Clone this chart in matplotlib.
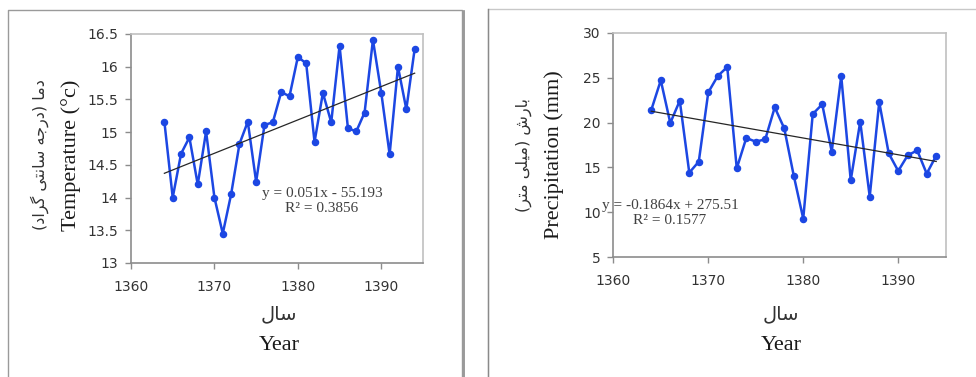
import matplotlib.pyplot as plt
from matplotlib.lines import Line2D

# data
years = list(range(1364, 1395))
temperature = [15.16, 14.0, 14.67, 14.92, 14.2, 15.01, 14.0, 13.45, 14.05, 14.82,
               15.16, 14.24, 15.11, 15.15, 15.61, 15.55, 16.15, 16.05, 14.85, 15.6,
               15.15, 16.32, 15.06, 15.01, 15.3, 16.41, 15.6, 14.66, 16.0, 15.35, 16.27]
precipitation = [21.4, 24.7, 19.95, 22.43, 14.42, 15.65, 23.36, 25.18, 26.18, 14.9,
                 18.28, 17.87, 18.13, 21.69, 19.35, 14.09, 9.3, 20.95, 22.03, 16.76,
                 25.18, 13.57, 20.1, 11.75, 22.28, 16.57, 14.61, 16.35, 16.9, 14.31, 16.31]
temp_fit = (0.051, -55.193, 0.3856)
prec_fit = (-0.1864, 275.51, 0.1577)
x_ticks = [1360, 1370, 1380, 1390]
temp_ticks = [13, 13.5, 14, 14.5, 15, 15.5, 16, 16.5]
prec_ticks = [5, 10, 15, 20, 25, 30]

# matplotlib has no Arabic shaping, so pick presentation forms by hand
# (isolated, final, initial, medial)
FORMS = {
    'ا': ('\uFE8D', '\uFE8E', None, None),
    'ب': ('\uFE8F', '\uFE90', '\uFE91', '\uFE92'),
    'ت': ('\uFE95', '\uFE96', '\uFE97', '\uFE98'),
    'ج': ('\uFE9D', '\uFE9E', '\uFE9F', '\uFEA0'),
    'د': ('\uFEA9', '\uFEAA', None, None),
    'ر': ('\uFEAD', '\uFEAE', None, None),
    'س': ('\uFEB1', '\uFEB2', '\uFEB3', '\uFEB4'),
    'ش': ('\uFEB5', '\uFEB6', '\uFEB7', '\uFEB8'),
    'گ': ('\uFB92', '\uFB93', '\uFB94', '\uFB95'),
    'ل': ('\uFEDD', '\uFEDE', '\uFEDF', '\uFEE0'),
    'م': ('\uFEE1', '\uFEE2', '\uFEE3', '\uFEE4'),
    'ن': ('\uFEE5', '\uFEE6', '\uFEE7', '\uFEE8'),
    'ه': ('\uFEE9', '\uFEEA', '\uFEEB', '\uFEEC'),
    'ی': ('\uFBFC', '\uFBFD', '\uFBFE', '\uFBFF'),
}


def fa(text):
    out = []
    for i, c in enumerate(text):
        if c not in FORMS:
            out.append(c)
            continue
        prev = text[i - 1] if i > 0 else ''
        nxt = text[i + 1] if i + 1 < len(text) else ''
        join_prev = prev in FORMS and FORMS[prev][2] is not None
        join_next = nxt in FORMS and FORMS[c][2] is not None
        iso, fin, ini, med = FORMS[c]
        if join_prev and join_next:
            out.append(med)
        elif join_prev:
            out.append(fin)
        elif join_next:
            out.append(ini)
        else:
            out.append(iso)
    return ''.join(out)[::-1].translate(str.maketrans('()', ')('))


W, H = 976, 377
fig = plt.figure(figsize=(W / 100, H / 100), dpi=100)

# panel frames
fig.add_artist(Line2D([8 / W, 8 / W, 462 / W, 462 / W], [0, 1 - 10 / H, 1 - 10 / H, 0],
                      color='#9a9a9a', lw=1.0))
fig.add_artist(Line2D([463.5 / W, 463.5 / W], [0, 1 - 11 / H], color='#8a8a8a', lw=1.2))
fig.add_artist(Line2D([487.5 / W, 487.5 / W, 1], [0, 1 - 9 / H, 1 - 9 / H],
                      color='#c8c8c8', lw=1.0))
fig.add_artist(Line2D([487.5 / W, 487.5 / W], [0, 1 - 9 / H], color='#8a8a8a', lw=1.0))

blue = '#1c47e3'
tick_color = '#333333'
serif = 'Liberation Serif'


def make_panel(box, y, ticks, ylim, fit, title_en, title_fa, eq, eq_pos, lab_x, xl_x):
    l, r, t, b = box
    ax = fig.add_axes([l / W, 1 - b / H, (r - l) / W, (b - t) / H])
    ax.plot(years, y, color=blue, lw=1.8, marker='o', ms=4.4, zorder=3)
    a, c, r2 = fit
    ax.plot([years[0], years[-1]], [a * years[0] + c, a * years[-1] + c],
            color='#262626', lw=0.9, zorder=4)
    ax.set_xlim(1360, 1395)
    ax.set_ylim(*ylim)
    ax.set_xticks(x_ticks)
    ax.set_yticks(ticks)
    ax.set_yticklabels([f'{v:g}' for v in ticks])
    for s in ['top', 'right']:
        ax.spines[s].set_color('#c0c0c0')
        ax.spines[s].set_linewidth(1.2)
    for s in ['left', 'bottom']:
        ax.spines[s].set_color('#8c8c8c')
        ax.spines[s].set_linewidth(1.2)
    ax.tick_params(direction='out', length=4, width=1, color='#8c8c8c',
                   labelsize=10, labelcolor=tick_color, pad=5)
    ax.tick_params(axis='x', pad=8)
    ex, ey = eq_pos
    ax.text(ex, ey, eq, transform=fig.transFigure, ha='center', va='center',
            fontsize=11, family=serif, color='#404040', linespacing=1.1, zorder=5)
    fig.text(lab_x[0] / W, 1 - lab_x[2] / H, title_fa, rotation=90, ha='center', va='center',
             fontsize=11.5, family=['DejaVu Sans'], color='#333333')
    fig.text(lab_x[1] / W, 1 - lab_x[2] / H, title_en, rotation=90, ha='center', va='center',
             fontsize=16, family=serif, color='#1a1a1a')
    fig.text(xl_x / W, 1 - 314 / H, fa('سال'), ha='center', va='center',
             fontsize=14, family=['DejaVu Sans'], color='#333333')
    fig.text(xl_x / W, 1 - 345 / H, 'Year', ha='center', va='center',
             fontsize=16, family=serif, color='#1a1a1a')
    return ax


make_panel((131, 423, 34, 263), temperature, temp_ticks, (13, 16.5), temp_fit,
           'Temperature (°c)', fa('دما (درجه سانتی گراد)'),
           'y = 0.051x - 55.193\nR² = 0.3856', (322 / W, 1 - 201 / H),
           (40, 71, 155), 279)
make_panel((613.3, 945.7, 32.7, 257.3), precipitation, prec_ticks, (5, 30), prec_fit,
           'Precipitation (mm)', fa('بارش (میلی متر)'),
           'y = -0.1864x + 275.51\nR² = 0.1577', (670 / W, 1 - 213 / H),
           (524, 554, 155), 781)

fig.savefig('out.png', dpi=100)
